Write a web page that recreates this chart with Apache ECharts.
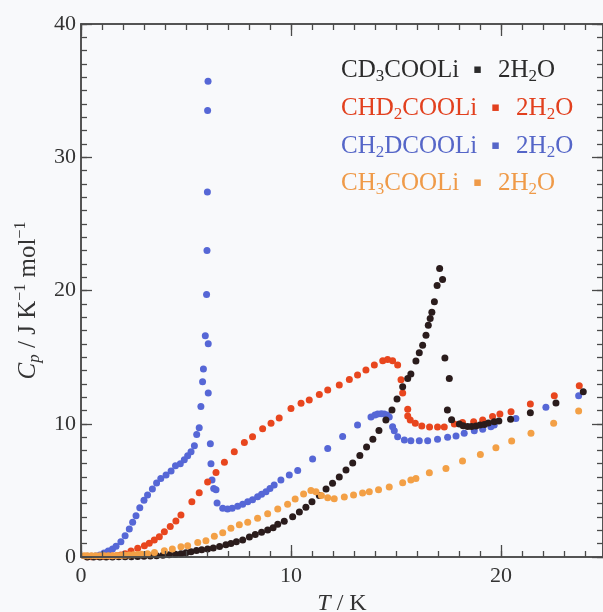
<!DOCTYPE html>
<html>
<head>
<meta charset="utf-8">
<script src="https://cdn.jsdelivr.net/npm/echarts@6/dist/echarts.min.js"></script>
<style>
  html, body { margin: 0; padding: 0; background: #f8f9fb; }
  #chart { width: 603px; height: 612px; }
</style>
</head>
<body>
<div id="chart"></div>
<script>
// Heat capacity Cp (J K^-1 mol^-1) against temperature T (K), pairs of [T, Cp]

const cd3Points = [
  [0.3,0.0],[0.6,0.0],[0.9,0.0],[1.2,0.0],[1.5,0.0],[1.8,0.01],[2.1,0.01],[2.4,0.02],[2.7,0.03],
  [3.0,0.05],[3.3,0.07],[3.6,0.1],[3.9,0.13],[4.2,0.17],[4.5,0.2],[4.76,0.25],[5.0,0.32],[5.24,0.4],
  [5.5,0.48],[5.75,0.55],[6.03,0.6],[6.3,0.68],[6.6,0.78],[6.9,0.92],[7.14,1.02],[7.4,1.15],[7.7,1.28],
  [8.02,1.5],[8.3,1.68],[8.6,1.85],[8.89,2.03],[9.15,2.2],[9.37,2.45],[9.68,2.68],[10.08,3.03],[10.4,3.37],
  [10.71,3.73],[11.0,4.15],[11.35,4.62],[11.67,5.1],[11.98,5.53],[12.3,6.0],[12.62,6.53],[12.94,7.05],
  [13.28,7.62],[13.6,8.25],[13.9,8.84],[14.19,9.5],[14.52,10.28],[14.81,11.03],[15.05,11.85],[15.32,12.78],
  [15.56,13.4],[15.71,13.73],[15.95,14.7],[16.11,15.33],[16.27,15.9],[16.43,16.65],[16.54,17.4],[16.63,17.9],
  [16.71,18.37],[16.83,19.15],[16.96,20.38],[17.22,20.83],[17.08,21.66],
  [17.33,14.93],[17.54,13.4],[17.45,11.03],[17.65,10.3],[18.02,9.98],[18.2,9.85],[18.41,9.8],[18.6,9.8],
  [18.81,9.83],[19.0,9.9],[19.21,9.95],[19.4,10.05],[19.68,10.15],[19.9,10.2],[20.46,10.33],[21.4,10.83],
  [22.62,11.55],[23.92,12.4]
];

const chd2Points = [
  [0.3,0.02],[0.5,0.02],[0.7,0.03],[0.9,0.03],[1.1,0.04],[1.3,0.05],[1.5,0.07],[1.7,0.1],[1.9,0.15],
  [2.1,0.25],[2.38,0.45],[2.7,0.65],[3.02,0.85],[3.25,1.03],[3.49,1.28],[3.73,1.52],[3.97,1.9],[4.25,2.28],
  [4.52,2.7],[4.76,3.15],[5.28,4.15],[5.63,4.82],[6.03,5.62],[6.43,6.35],[6.83,7.12],[7.3,7.9],[7.78,8.6],
  [8.17,9.03],[8.65,9.62],[9.05,10.03],[9.44,10.43],[10.0,11.15],[10.48,11.53],[10.87,11.78],[11.35,12.2],
  [11.75,12.53],[12.3,12.9],[12.78,13.33],[13.17,13.65],[13.57,14.03],[13.97,14.4],[14.37,14.72],[14.6,14.83],
  [14.84,14.73],[15.08,14.4],[15.24,13.3],[15.32,12.3],[15.56,11.08],[15.56,10.58],[15.68,10.28],[15.92,10.03],
  [16.23,9.84],[16.6,9.76],[16.98,9.75],[17.3,9.76],[17.78,9.98],[18.17,10.1],[18.7,10.15],[19.13,10.28],
  [19.6,10.55],[19.95,10.73],[20.48,10.9],[21.4,11.48],[22.54,12.1],[23.73,12.85]
];

const ch2dPoints = [
  [0.3,0.05],[0.5,0.05],[0.7,0.08],[0.9,0.15],[1.1,0.3],[1.3,0.45],[1.5,0.6],[1.67,0.8],[1.9,1.15],
  [2.1,1.6],[2.3,2.1],[2.46,2.6],[2.62,3.1],[2.8,3.7],[3.0,4.25],[3.17,4.65],[3.4,5.1],[3.6,5.55],[3.8,5.9],
  [4.05,6.15],[4.29,6.45],[4.5,6.85],[4.73,7.0],[4.92,7.3],[5.08,7.6],[5.24,7.9],[5.4,8.35],[5.51,9.2],
  [5.63,9.7],[5.71,11.3],[5.79,13.15],[5.83,14.1],[5.92,16.6],[5.98,19.7],[6.0,23.0],[6.02,27.4],
  [6.03,33.5],[6.05,35.7],
  [6.06,16.0],[6.06,12.3],[6.16,8.5],[6.19,7.0],[6.24,5.78],[6.32,5.15],[6.43,5.05],[6.48,4.05],[6.75,3.65],
  [6.98,3.6],[7.2,3.65],[7.46,3.8],[7.7,3.95],[7.94,4.15],[8.17,4.3],[8.41,4.52],[8.6,4.7],[8.81,4.9],
  [9.0,5.15],[9.2,5.4],[9.52,5.78],[9.92,6.15],[10.32,6.5],[11.03,7.35],[11.75,8.15],[12.46,9.05],
  [13.17,9.9],[13.81,10.5],[14.0,10.65],[14.13,10.73],[14.3,10.75],[14.44,10.73],[14.58,10.65],[14.68,10.5],
  [14.84,9.78],[14.92,9.48],[15.08,9.03],[15.4,8.78],[15.71,8.73],[16.11,8.73],[16.51,8.73],[16.98,8.83],
  [17.46,8.98],[17.86,9.08],[18.25,9.28],[18.73,9.48],[19.13,9.58],[19.52,9.78],[19.68,9.9],[20.71,10.4],
  [22.14,11.23],[23.7,12.1]
];

const ch3Points = [
  [0.15,0.1],[0.3,0.1],[0.5,0.1],[0.7,0.1],[0.9,0.1],[1.1,0.1],[1.3,0.1],[1.5,0.1],[1.7,0.12],[1.9,0.12],
  [2.1,0.14],[2.3,0.15],[2.5,0.17],[2.7,0.18],[2.9,0.2],[3.17,0.25],[3.5,0.33],[3.97,0.47],[4.35,0.6],
  [4.76,0.77],[5.08,0.85],[5.56,1.08],[5.95,1.22],[6.35,1.55],[6.75,1.82],[7.14,2.15],[7.54,2.42],
  [7.94,2.6],[8.41,2.9],[8.89,3.25],[9.37,3.6],[9.84,3.95],[10.2,4.35],[10.6,4.72],[10.95,5.0],[11.19,4.9],
  [11.45,4.62],[11.75,4.45],[12.06,4.38],[12.54,4.5],[12.98,4.65],[13.41,4.8],[13.73,4.9],[14.17,5.05],
  [14.68,5.25],[15.32,5.58],[15.71,5.78],[15.95,5.9],[16.59,6.33],[17.38,6.65],[18.17,7.2],[19.02,7.7],
  [19.76,8.2],[20.51,8.7],[21.43,9.28],[22.51,10.03],[23.7,10.95]
];

// Visible temperature window ends just short of 25 K at the right edge
const X_MIN = 0, X_MAX = 24.86, Y_MIN = 0, Y_MAX = 40;
const MAJOR_STEP = 10, MINOR_STEP = 1;

const SERIF = "'Liberation Serif', 'Times New Roman', serif";
const AXIS_COLOR = '#4a4a4a';
const LABEL_COLOR = '#333333';

const dotColors = { cd3: '#2a1c1c', chd2: '#e8461e', ch2d: '#5667d6', ch3: '#f3a046' };
const textColors = { cd3: '#2b2b2b', chd2: '#e2401e', ch2d: '#5566c8', ch3: '#ef9a48' };

// Frame axis helper: one axis per side and tick size, kept above the plotted dots
function frameAxis(dim, position, step, tickLen, withLabels) {
  const isX = dim === 'x';
  return {
    type: 'value',
    position: position,
    z: 10,
    min: isX ? X_MIN : Y_MIN,
    max: isX ? X_MAX : Y_MAX,
    interval: step,
    axisLine: { show: true, onZero: false, lineStyle: { color: AXIS_COLOR, width: 1.5 } },
    axisTick: { show: true, inside: true, length: tickLen, lineStyle: { color: AXIS_COLOR, width: 1.3 } },
    axisLabel: {
      show: withLabels,
      margin: isX ? 8 : 5,
      fontSize: 22,
      fontFamily: SERIF,
      color: LABEL_COLOR,
      formatter: (val) => (val % MAJOR_STEP === 0 ? String(val) : '')
    },
    splitLine: { show: false }
  };
}

// Rich text styles for chemical formulas with subscripts
function formulaRich(color) {
  return {
    m: { fontSize: 25, fontFamily: SERIF, fontWeight: 'normal', color: color, lineHeight: 30 },
    s: { fontSize: 17, fontFamily: SERIF, fontWeight: 'normal', color: color, lineHeight: 18, verticalAlign: 'bottom' },
    d: { fontSize: 13, fontFamily: "'DejaVu Sans', sans-serif", fontWeight: 'normal', color: color, lineHeight: 30, padding: [0, 16, 0, 14] }
  };
}

const legendRows = [
  { key: 'cd3',  text: '{m|CD}{s|3}{m|COOLi}{d|▪}{m|2H}{s|2}{m|O}' },
  { key: 'chd2', text: '{m|CHD}{s|2}{m|COOLi}{d|▪}{m|2H}{s|2}{m|O}' },
  { key: 'ch2d', text: '{m|CH}{s|2}{m|DCOOLi}{d|▪}{m|2H}{s|2}{m|O}' },
  { key: 'ch3',  text: '{m|CH}{s|3}{m|COOLi}{d|▪}{m|2H}{s|2}{m|O}' }
];
const legendTop = [55, 93, 131, 168];

// Series labels listed as text blocks in the upper right of the plot
const legendTitles = legendRows.map((row, i) => ({
  text: row.text,
  left: 341,
  top: legendTop[i],
  padding: 0,
  textStyle: {
    fontWeight: 'normal',
    fontFamily: SERIF,
    fontSize: 25,
    color: textColors[row.key],
    rich: formulaRich(textColors[row.key])
  }
}));

const axisX = [
  frameAxis('x', 'bottom', MAJOR_STEP, 12, true),
  frameAxis('x', 'bottom', MINOR_STEP, 6, false),
  frameAxis('x', 'top', MAJOR_STEP, 12, false),
  frameAxis('x', 'top', MINOR_STEP, 6, false)
];
axisX[0].name = '{i|T}{t| / K}';
axisX[0].nameLocation = 'middle';
axisX[0].nameGap = 30;
axisX[0].nameTextStyle = {
  rich: {
    i: { fontSize: 24, fontFamily: SERIF, fontStyle: 'italic', color: LABEL_COLOR, lineHeight: 26 },
    t: { fontSize: 24, fontFamily: SERIF, color: LABEL_COLOR, lineHeight: 26 }
  }
};

const axisY = [
  frameAxis('y', 'left', MAJOR_STEP, 11, true),
  frameAxis('y', 'left', MINOR_STEP, 6, false),
  frameAxis('y', 'right', MAJOR_STEP, 11, false),
  frameAxis('y', 'right', MINOR_STEP, 6, false)
];
axisY[0].name = '{i|C}{ip|p}{t| / J K}{sup|−1}{t| mol}{sup|−1}';
axisY[0].nameLocation = 'middle';
axisY[0].nameRotate = 90;
axisY[0].nameGap = 36;
axisY[0].nameTextStyle = {
  padding: [0, 20, 0, 0],
  rich: {
    i: { fontSize: 25, fontFamily: SERIF, fontStyle: 'italic', color: LABEL_COLOR, lineHeight: 30 },
    ip: { fontSize: 17, fontFamily: SERIF, fontStyle: 'italic', color: LABEL_COLOR, lineHeight: 18, verticalAlign: 'bottom' },
    t: { fontSize: 25, fontFamily: SERIF, color: LABEL_COLOR, lineHeight: 30 },
    sup: { fontSize: 16, fontFamily: SERIF, color: LABEL_COLOR, lineHeight: 16, verticalAlign: 'top' }
  }
};

function dotSeries(name, data, color) {
  return {
    name: name,
    type: 'scatter',
    xAxisIndex: 0,
    yAxisIndex: 0,
    z: 2,
    data: data,
    symbol: 'circle',
    symbolSize: 7,
    itemStyle: { color: color, opacity: 1 },
    emphasis: { disabled: true }
  };
}

const chart = echarts.init(document.getElementById('chart'), null, { renderer: 'canvas' });
chart.setOption({
  backgroundColor: '#f8f9fb',
  animation: false,
  title: legendTitles,
  grid: { left: 81, top: 24, right: 0, bottom: 55, outerBoundsMode: 'none' },
  xAxis: axisX,
  yAxis: axisY,
  series: [
    dotSeries('CH2DCOOLi·2H2O', ch2dPoints, dotColors.ch2d),
    dotSeries('CHD2COOLi·2H2O', chd2Points, dotColors.chd2),
    dotSeries('CD3COOLi·2H2O', cd3Points, dotColors.cd3),
    dotSeries('CH3COOLi·2H2O', ch3Points, dotColors.ch3)
  ]
});
</script>
</body>
</html>
